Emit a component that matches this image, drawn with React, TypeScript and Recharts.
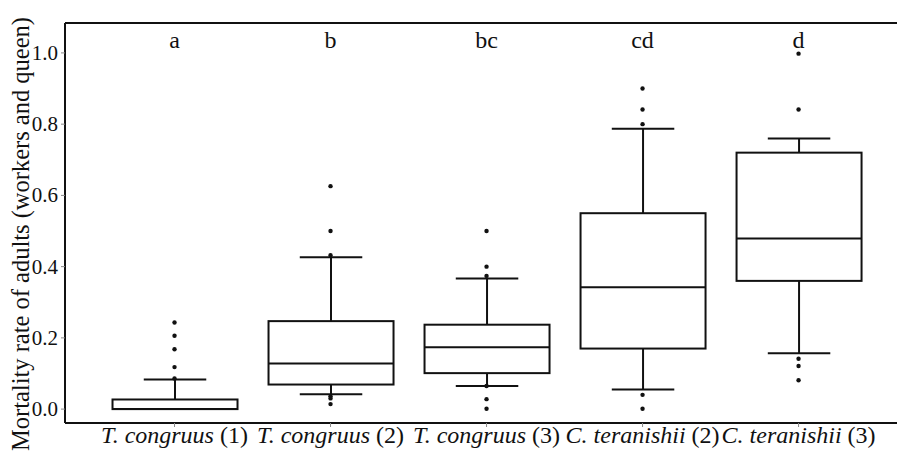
import React from 'react';
import { Bar, ComposedChart, ReferenceLine, Scatter, XAxis, YAxis } from 'recharts';

const species = ['T. congruus', 'T. congruus', 'T. congruus', 'C. teranishii', 'C. teranishii'];
const colonyGroup = ['(1)', '(2)', '(3)', '(2)', '(3)'];
const letters = ['a', 'b', 'bc', 'cd', 'd'];

const whiskerLow = [0, 0.042, 0.065, 0.055, 0.157];
const q1 = [0, 0.069, 0.101, 0.17, 0.36];
const median = [0, 0.128, 0.174, 0.342, 0.479];
const q3 = [0.027, 0.247, 0.237, 0.55, 0.72];
const whiskerHigh = [0.083, 0.426, 0.367, 0.787, 0.76];

const outliers = [
  [0.086, 0.118, 0.168, 0.206, 0.243],
  [0.626, 0.5, 0.432, 0.036, 0.03, 0.014],
  [0.5, 0.4, 0.374, 0.065, 0.028, 0.001],
  [0.9, 0.841, 0.8, 0.04, 0.001],
  [0.998, 0.841, 0.1415, 0.121, 0.081],
];

const yTicks = [0, 0.2, 0.4, 0.6, 0.8, 1.0];
const Y_MIN = -0.039;
const Y_MAX = 1.084;
const LETTER_Y = 1.035;

const SERIF = '"Liberation Serif", "Times New Roman", serif';
const INK = '#111';
const serifStyle = { fontFamily: SERIF };

const boxData = species.map((_, i) => ({
  x: i,
  range: [whiskerLow[i], whiskerHigh[i]],
  lo: whiskerLow[i],
  hi: whiskerHigh[i],
  q1: q1[i],
  median: median[i],
  q3: q3[i],
}));

const outlierData = outliers.flatMap((vals, i) => vals.map((v) => ({ x: i, y: v })));
const letterData = letters.map((label, i) => ({ x: i, y: LETTER_Y, label }));

function BoxShape(props: any) {
  const { x, y, width, height, payload } = props;
  const top = Math.min(y, y + height);
  const h = Math.abs(height);
  const span = payload.hi - payload.lo;
  const py = (v: number) => top + ((payload.hi - v) / span) * h;
  const cx = x + width / 2;
  const cap = width / 4;
  return (
    <g stroke={INK} strokeWidth={2} fill="none">
      <line x1={cx} x2={cx} y1={py(payload.hi)} y2={py(payload.q3)} />
      <line x1={cx} x2={cx} y1={py(payload.q1)} y2={py(payload.lo)} />
      <line x1={cx - cap} x2={cx + cap} y1={py(payload.hi)} y2={py(payload.hi)} />
      <line x1={cx - cap} x2={cx + cap} y1={py(payload.lo)} y2={py(payload.lo)} />
      <rect x={x} y={py(payload.q3)} width={width} height={py(payload.q1) - py(payload.q3)} fill="#fff" />
      <line x1={x} x2={x + width} y1={py(payload.median)} y2={py(payload.median)} />
    </g>
  );
}

function Dot(props: any) {
  const { cx, cy } = props;
  return <circle cx={cx} cy={cy} r={2.2} fill={INK} />;
}

function Letter(props: any) {
  const { cx, cy, payload } = props;
  return (
    <text x={cx} y={cy} textAnchor="middle" dominantBaseline="central" style={serifStyle} fontSize={24} fill={INK}>
      {payload.label}
    </text>
  );
}

function XTick(props: any) {
  const { x, y, payload } = props;
  const i = payload.value as number;
  if (species[i] === undefined) return null;
  return (
    <text x={x} y={y} dy={14} textAnchor="middle" style={serifStyle} fontSize={24} fill={INK}>
      <tspan fontStyle="italic">{species[i]}</tspan>
      <tspan> {colonyGroup[i]}</tspan>
    </text>
  );
}

function YTick(props: any) {
  const { x, y, payload } = props;
  return (
    <text x={x} y={y} dx={-1} textAnchor="end" dominantBaseline="central" style={serifStyle} fontSize={21} fill={INK}>
      {Number(payload.value).toFixed(1)}
    </text>
  );
}

function YLabel(props: any) {
  const { viewBox } = props;
  const lx = viewBox.x + 29;
  const ly = 234;
  return (
    <text x={lx} y={ly} transform={`rotate(-90, ${lx}, ${ly})`} textAnchor="middle" style={serifStyle} fontSize={24.5} fill={INK}>
      Mortality rate of adults (workers and queen)
    </text>
  );
}

export default function App() {
  return (
    <div style={{ position: 'absolute', left: 0, top: 0, width: 897, height: 456, overflow: 'hidden', background: '#fff' }}>
      <ComposedChart width={897} height={456} data={boxData} margin={{ top: 23, right: 0, bottom: 0, left: 0 }}>
        <XAxis
          dataKey="x"
          type="number"
          domain={[-0.702, 4.631]}
          ticks={[0, 1, 2, 3, 4]}
          allowDataOverflow
          height={33}
          tickSize={4}
          tick={<XTick />}
          axisLine={{ stroke: INK, strokeWidth: 2 }}
          tickLine={{ stroke: '#888' }}
        />
        <YAxis
          type="number"
          domain={[Y_MIN, Y_MAX]}
          ticks={yTicks}
          allowDataOverflow
          width={65}
          tickSize={4}
          tick={<YTick />}
          axisLine={{ stroke: INK, strokeWidth: 2 }}
          tickLine={{ stroke: '#888' }}
          label={<YLabel />}
        />
        <ReferenceLine y={Y_MAX} stroke={INK} strokeWidth={2} ifOverflow="visible" />
        <Bar dataKey="range" barSize={125} shape={<BoxShape />} isAnimationActive={false} />
        <Scatter data={outlierData} dataKey="y" shape={<Dot />} isAnimationActive={false} />
        <Scatter data={letterData} dataKey="y" shape={<Letter />} isAnimationActive={false} />
      </ComposedChart>
    </div>
  );
}
